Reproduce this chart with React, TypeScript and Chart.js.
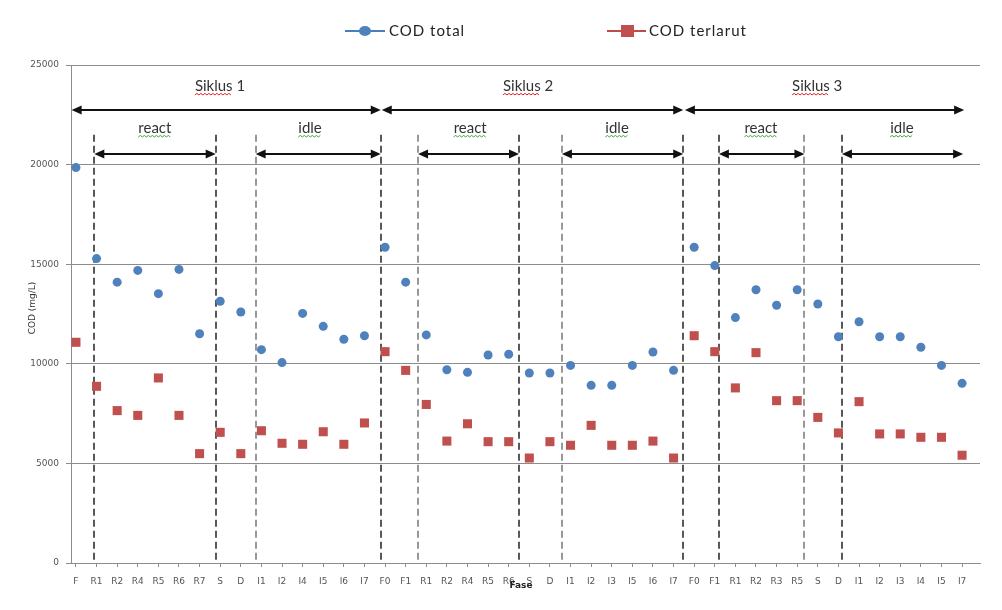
import React, { useEffect, useRef } from "react";
import { Chart, registerables } from "chart.js";

Chart.register(...registerables);

// ---- data ----
const phases = [
  "F", "R1", "R2", "R4", "R5", "R6", "R7", "S", "D", "I1", "I2", "I4", "I5", "I6", "I7",
  "F0", "F1", "R1", "R2", "R4", "R5", "R6", "S", "D", "I1", "I2", "I3", "I5", "I6", "I7",
  "F0", "F1", "R1", "R2", "R3", "R5", "S", "D", "I1", "I2", "I3", "I4", "I5", "I7",
];
const codTotal = [
  19850, 15280, 14100, 14690, 13520, 14740, 11510, 13140, 12600, 10710, 10060, 12530, 11880, 11230, 11410,
  15850, 14100, 11450, 9700, 9570, 10440, 10480, 9540, 9540, 9920, 8920, 8920, 9920, 10590, 9670,
  15850, 14930, 12320, 13720, 12940, 13720, 13000, 11360, 12110, 11360, 11360, 10830, 9920, 9020,
];
const codTerlarut = [
  11080, 8870, 7650, 7410, 9290, 7410, 5490, 6560, 5490, 6640, 6010, 5960, 6590, 5960, 7030,
  10610, 9670, 7960, 6120, 6990, 6090, 6090, 5270, 6090, 5910, 6910, 5910, 5910, 6120, 5270,
  11410, 10610, 8790, 10560, 8150, 8150, 7310, 6530, 8100, 6480, 6480, 6310, 6310, 5410,
];
const yTicks = [0, 5000, 10000, 15000, 20000, 25000];

// ---- annotations (in data units: category index / COD value) ----
const dividers = [0.89, 6.78, 8.72, 14.79, 16.6, 21.5, 23.58, 29.47, 31.2, 35.35, 37.17];
const dividerDark = [true, true, false, true, false, true, false, true, true, false, true];
const dividerTopValue = 21500;
const cycleNames = ["Siklus 1", "Siklus 2", "Siklus 3"];
const cycleSpans = [[-0.21, 14.79], [14.84, 29.47], [29.55, 43.1]];
const cycleLabelX = [6.99, 21.94, 35.97];
const cycleArrowValue = 22740;
const cycleLabelValue = 23950;
const phaseNames = ["react", "idle", "react", "idle", "react", "idle"];
const phaseSpans = [[0.89, 6.78], [8.72, 14.79], [16.6, 21.5], [23.58, 29.47], [31.2, 35.35], [37.17, 43.05]];
const phaseLabelX = [3.83, 11.36, 19.13, 26.26, 33.24, 40.08];
const phaseArrowValue = 20530;
const phaseLabelValue = 21840;

const BLUE = "#4f81bd";
const RED = "#c0504d";
const ANNOT_FONT = "Lato, 'Open Sans', sans-serif";
const AXIS_FONT = "'DejaVu Sans', sans-serif";

function squiggle(ctx: CanvasRenderingContext2D, x1: number, x2: number, y: number, color: string) {
  ctx.save();
  ctx.strokeStyle = color;
  ctx.lineWidth = 1;
  ctx.beginPath();
  let up = true;
  ctx.moveTo(x1, y);
  for (let x = x1 + 2; x <= x2; x += 2) {
    ctx.lineTo(x, up ? y - 1.5 : y);
    up = !up;
  }
  ctx.stroke();
  ctx.restore();
}

function arrow(ctx: CanvasRenderingContext2D, x1: number, x2: number, y: number) {
  const head = 10;
  const half = 4.5;
  ctx.save();
  ctx.strokeStyle = "#111";
  ctx.fillStyle = "#111";
  ctx.lineWidth = 2;
  ctx.beginPath();
  ctx.moveTo(x1 + head - 1, y);
  ctx.lineTo(x2 - head + 1, y);
  ctx.stroke();
  ctx.beginPath();
  ctx.moveTo(x1, y);
  ctx.lineTo(x1 + head, y - half);
  ctx.lineTo(x1 + head, y + half);
  ctx.closePath();
  ctx.fill();
  ctx.beginPath();
  ctx.moveTo(x2, y);
  ctx.lineTo(x2 - head, y - half);
  ctx.lineTo(x2 - head, y + half);
  ctx.closePath();
  ctx.fill();
  ctx.restore();
}

function labelWithSquiggle(
  ctx: CanvasRenderingContext2D,
  text: string,
  cx: number,
  cy: number,
  squiggleWord: string,
  color: string
) {
  ctx.save();
  ctx.font = `15px ${ANNOT_FONT}`;
  ctx.fillStyle = "#333";
  ctx.textBaseline = "middle";
  ctx.textAlign = "left";
  const w = ctx.measureText(text).width;
  const x0 = cx - w / 2;
  ctx.fillText(text, x0, cy);
  const sw = ctx.measureText(squiggleWord).width;
  squiggle(ctx, x0, x0 + sw, cy + 9, color);
  ctx.restore();
}

const annotPlugin = {
  id: "annotPlugin",
  beforeDatasetsDraw(chart: any) {
    const { ctx, scales } = chart;
    const x = scales.x;
    const y = scales.y;
    ctx.save();
    // dashed phase dividers
    ctx.lineWidth = 1.5;
    ctx.setLineDash([7, 4]);
    dividers.forEach((v, i) => {
      ctx.strokeStyle = dividerDark[i] ? "#222" : "#777";
      const px = Math.round(x.getPixelForValue(v));
      ctx.beginPath();
      ctx.moveTo(px, y.getPixelForValue(dividerTopValue));
      ctx.lineTo(px, y.getPixelForValue(0));
      ctx.stroke();
    });
    ctx.setLineDash([]);
    cycleSpans.forEach(([a, b]) => {
      arrow(ctx, x.getPixelForValue(a), x.getPixelForValue(b), Math.round(y.getPixelForValue(cycleArrowValue)));
    });
    phaseSpans.forEach(([a, b]) => {
      arrow(ctx, x.getPixelForValue(a), x.getPixelForValue(b), Math.round(y.getPixelForValue(phaseArrowValue)));
    });
    cycleNames.forEach((t, i) => {
      labelWithSquiggle(ctx, t, x.getPixelForValue(cycleLabelX[i]), y.getPixelForValue(cycleLabelValue), "Siklus", "#e02020");
    });
    phaseNames.forEach((t, i) => {
      labelWithSquiggle(ctx, t, x.getPixelForValue(phaseLabelX[i]), y.getPixelForValue(phaseLabelValue), t, "#3aa53a");
    });
    ctx.restore();
  },
  afterDraw(chart: any) {
    const { ctx, chartArea } = chart;
    ctx.save();
    // legend
    const ly = 31;
    ctx.lineWidth = 2;
    ctx.strokeStyle = "#4a7ebb";
    ctx.beginPath();
    ctx.moveTo(345, ly);
    ctx.lineTo(385, ly);
    ctx.stroke();
    ctx.fillStyle = BLUE;
    ctx.beginPath();
    ctx.ellipse(365, ly, 6, 5, 0, 0, Math.PI * 2);
    ctx.fill();
    ctx.strokeStyle = "#be4b48";
    ctx.beginPath();
    ctx.moveTo(607, ly);
    ctx.lineTo(646, ly);
    ctx.stroke();
    ctx.fillStyle = RED;
    ctx.fillRect(621, ly - 6, 13, 12);
    ctx.fillStyle = "#222";
    ctx.font = `15px ${ANNOT_FONT}`;
    (ctx as any).letterSpacing = "1px";
    ctx.textBaseline = "middle";
    ctx.textAlign = "left";
    ctx.fillText("COD total", 389, ly);
    ctx.fillText("COD terlarut", 649, ly);
    (ctx as any).letterSpacing = "0px";
    // y title
    ctx.save();
    ctx.translate(33, (chartArea.top + chartArea.bottom) / 2 - 6);
    ctx.rotate(-Math.PI / 2);
    ctx.textAlign = "center";
    ctx.fillStyle = "#333";
    ctx.font = `9px ${AXIS_FONT}`;
    ctx.fillText("COD (mg/L)", 0, 0);
    ctx.restore();
    // x title
    ctx.textAlign = "center";
    ctx.fillStyle = "#222";
    ctx.font = `bold 9px ${AXIS_FONT}`;
    ctx.fillText("Fase", 521, chartArea.bottom + 23);
    ctx.restore();
  },
};

export default function App() {
  const ref = useRef<HTMLCanvasElement | null>(null);
  useEffect(() => {
    document.body.style.margin = "0";
    if (!ref.current) return;
    const chart = new Chart(ref.current, {
      type: "scatter",
      data: {
        datasets: [
          {
            label: "COD total",
            data: codTotal.map((v, i) => ({ x: i, y: v })),
            backgroundColor: BLUE,
            borderColor: BLUE,
            pointStyle: "circle",
            pointRadius: 4.5,
            pointBorderWidth: 0,
          },
          {
            label: "COD terlarut",
            data: codTerlarut.map((v, i) => ({ x: i, y: v })),
            backgroundColor: RED,
            borderColor: RED,
            pointStyle: "rect",
            pointRadius: 6.4,
            pointBorderWidth: 0,
          },
        ],
      },
      options: {
        responsive: false,
        animation: false,
        devicePixelRatio: 1,
        layout: { padding: { top: 65, right: 22, bottom: 0, left: 0 } },
        plugins: { legend: { display: false }, tooltip: { enabled: false } },
        scales: {
          x: {
            type: "linear",
            min: -0.24,
            max: 43.87,
            afterBuildTicks: (scale: any) => {
              scale.ticks = phases.map((_, i) => ({ value: i }));
            },
            afterFit: (scale: any) => {
              scale.height = 47;
            },
            grid: { drawOnChartArea: false, tickLength: 4, color: "#8c8c8c" },
            border: { color: "#8c8c8c", width: 1 },
            ticks: {
              autoSkip: false,
              maxRotation: 0,
              minRotation: 0,
              padding: 9,
              color: "#555",
              font: { family: AXIS_FONT, size: 9 },
              callback: (v: any) => (Number.isInteger(v) ? phases[v] : ""),
            },
          },
          y: {
            min: 0,
            max: 25000,
            afterBuildTicks: (scale: any) => {
              scale.ticks = yTicks.map((v) => ({ value: v }));
            },
            afterFit: (scale: any) => {
              scale.width = 71;
            },
            grid: { color: "#8c8c8c", lineWidth: 1, tickLength: 5 },
            border: { color: "#8c8c8c", width: 1 },
            ticks: {
              padding: 7,
              color: "#555",
              font: { family: AXIS_FONT, size: 9 },
              callback: (v: any) => String(v),
            },
          },
        },
      },
      plugins: [annotPlugin],
    } as any);
    return () => chart.destroy();
  }, []);
  return (
    <div style={{ position: "absolute", left: 0, top: 0, width: 1002, height: 610, background: "#fff" }}>
      <canvas ref={ref} width={1002} height={610} style={{ display: "block", width: 1002, height: 610 }} />
    </div>
  );
}
